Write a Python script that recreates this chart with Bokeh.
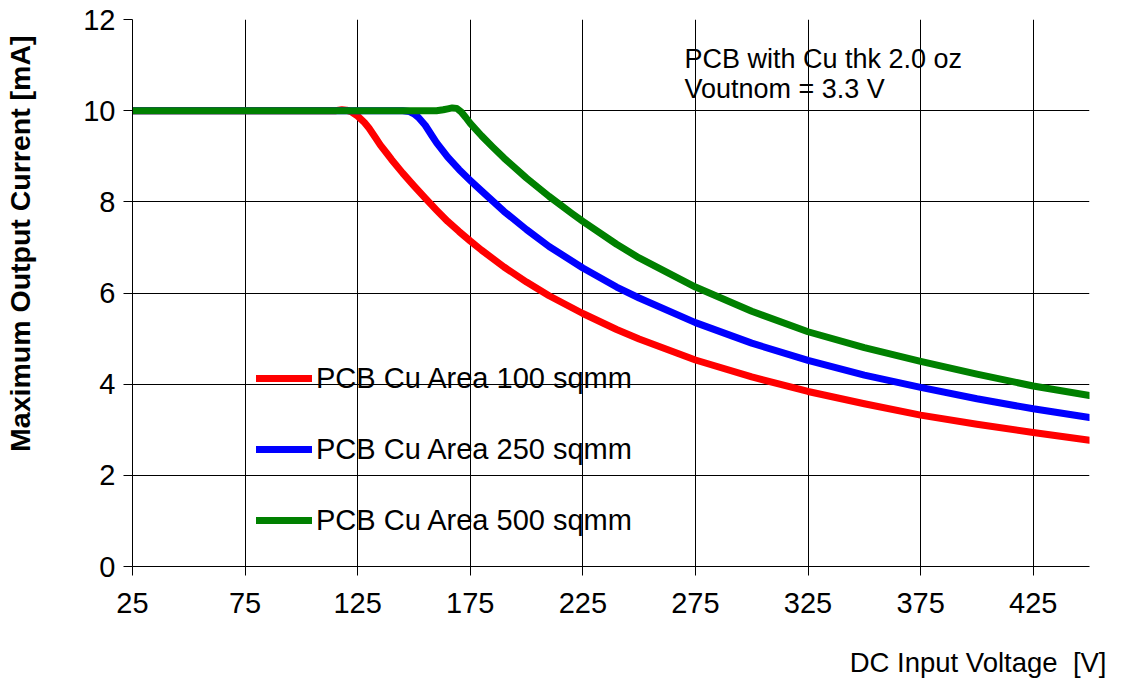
import math
from bokeh.plotting import figure
from bokeh.models import Range1d, FixedTicker, Legend, LegendItem, Label, Title
from bokeh.embed import file_html
from bokeh.resources import INLINE

# ---- data ----
voltage_100 = [25, 50, 75, 100, 115, 118, 120, 122, 125, 128, 130, 133, 135, 138, 140, 145, 150, 155, 160,
               165, 170, 175, 180, 190, 200, 210, 225, 240, 250, 275, 300, 325, 350, 375, 400, 425, 450]
current_100 = [10.0, 10.0, 10.0, 10.0, 10.0, 10.02, 10.01, 9.98, 9.88, 9.74, 9.62, 9.4, 9.25, 9.06, 8.93, 8.63, 8.35, 8.08, 7.82,
               7.57, 7.35, 7.14, 6.94, 6.57, 6.24, 5.94, 5.55, 5.2, 4.99, 4.53, 4.16, 3.84, 3.57, 3.32, 3.12, 2.94, 2.77]

voltage_250 = [25, 50, 75, 100, 125, 140, 145, 148, 150, 152, 155, 158, 160, 165, 170, 175, 180, 190,
               200, 210, 225, 240, 250, 275, 300, 325, 350, 375, 400, 425, 450]
current_250 = [10.0, 10.0, 10.0, 10.0, 10.0, 10.0, 10.0, 9.98, 9.93, 9.85, 9.68, 9.45, 9.3, 8.98, 8.71, 8.47, 8.24, 7.79,
               7.39, 7.02, 6.55, 6.13, 5.89, 5.35, 4.9, 4.52, 4.2, 3.93, 3.68, 3.46, 3.27]

voltage_500 = [25, 50, 75, 100, 125, 150, 155, 160, 163, 165, 167, 169, 171, 173, 175, 180, 185, 190, 200,
               210, 220, 225, 240, 250, 275, 300, 325, 350, 375, 400, 425, 450]
current_500 = [10.0, 10.0, 10.0, 10.0, 10.0, 10.0, 10.0, 10.0, 10.02, 10.04, 10.06, 10.05, 9.97, 9.85, 9.72, 9.45, 9.2, 8.96, 8.52,
               8.12, 7.75, 7.57, 7.07, 6.77, 6.13, 5.6, 5.15, 4.8, 4.5, 4.22, 3.96, 3.75]

series_labels = ["PCB Cu Area 100 sqmm", "PCB Cu Area 250 sqmm", "PCB Cu Area 500 sqmm"]
series_colors = ["#ff0000", "#0000ff", "#008000"]

x_ticks = [25, 75, 125, 175, 225, 275, 325, 375, 425]
y_ticks = [0, 2, 4, 6, 8, 10, 12]

note_lines = ["PCB with Cu thk 2.0 oz", "Voutnom = 3.3 V"]
x_title = "DC Input Voltage \u00a0[V]"
y_title = "Maximum Output Current [mA]"

FONT = "Liberation Sans"

p = figure(width=1118, height=679, output_backend="svg", toolbar_location=None,
           x_range=Range1d(25, 450), y_range=Range1d(0, 12),
           min_border_left=132, min_border_right=29, min_border_top=19, min_border_bottom=113)
p.outline_line_color = None
p.background_fill_color = "white"
p.border_fill_color = "white"

for ax in (p.xaxis[0], p.yaxis[0]):
    ax.axis_line_color = "black"
    ax.axis_line_width = 1
    ax.major_tick_line_color = "black"
    ax.major_tick_out = 9
    ax.major_tick_in = 0
    ax.minor_tick_line_color = None
    ax.major_label_text_font = FONT
    ax.major_label_text_font_size = "29px"
    ax.major_label_text_color = "black"
    # invisible spacer label pushes the titles outward
    ax.axis_label = "\u00a0"
    ax.axis_label_text_font_size = "1px"

p.xaxis[0].axis_label_standoff = 27
p.yaxis[0].axis_label_standoff = 39

p.xaxis[0].ticker = FixedTicker(ticks=x_ticks)
p.yaxis[0].ticker = FixedTicker(ticks=y_ticks)
p.xaxis[0].major_label_standoff = 17
p.yaxis[0].major_label_standoff = 8

p.xgrid.grid_line_color = "black"
p.ygrid.grid_line_color = "black"
p.xgrid.grid_line_width = 1
p.ygrid.grid_line_width = 1
p.xgrid.ticker = FixedTicker(ticks=x_ticks)
p.ygrid.ticker = FixedTicker(ticks=y_ticks)

renderers = []
for xs, ys, c in [(voltage_100, current_100, series_colors[0]),
                  (voltage_250, current_250, series_colors[1]),
                  (voltage_500, current_500, series_colors[2])]:
    r = p.line(xs, ys, line_color=c, line_width=7, line_join="round", line_cap="round")
    renderers.append(r)

legend = Legend(items=[LegendItem(label=lab, renderers=[r]) for lab, r in zip(series_labels, renderers)],
                location=(124, 26), glyph_width=56, glyph_height=40, label_height=40, spacing=31,
                padding=0, margin=0, label_standoff=4, border_line_color=None,
                background_fill_alpha=0, label_text_font=FONT, label_text_font_size="29px",
                label_text_color="black")
p.add_layout(legend)

p.add_layout(Label(x=270.1, y=11.14, text=note_lines[0], text_font=FONT, text_font_size="27px",
                   text_align="left", text_baseline="alphabetic", text_color="black"))
p.add_layout(Label(x=270.1, y=10.48, text=note_lines[1], text_font=FONT, text_font_size="27px",
                   text_align="left", text_baseline="alphabetic", text_color="black"))

xt = Title(text=x_title, align="right", offset=-17, standoff=0, vertical_align="top",
           text_font=FONT, text_font_size="27.5px", text_font_style="normal", text_color="black")
p.add_layout(xt, "below")
yt = Title(text=y_title, align="right", offset=16, standoff=0, vertical_align="top",
           text_font=FONT, text_font_size="28.5px", text_font_style="bold", text_color="black")
p.add_layout(yt, "left")

open("out.html", "w").write(file_html(p, INLINE))
